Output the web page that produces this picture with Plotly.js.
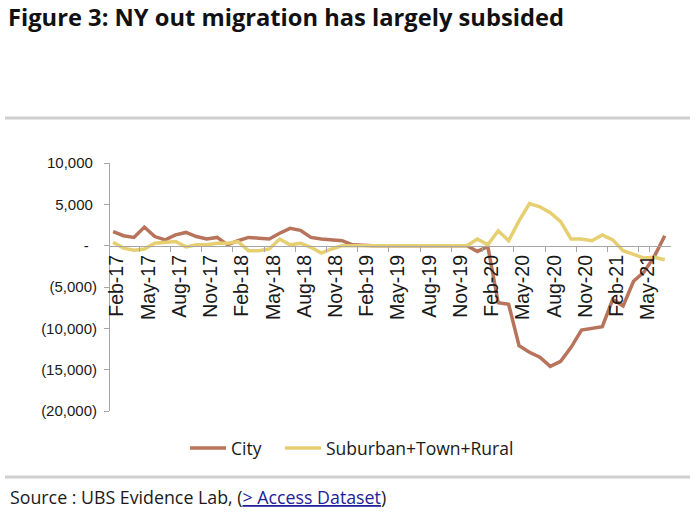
<!DOCTYPE html>
<html>
<head>
<meta charset="utf-8">
<script src="https://cdn.plot.ly/plotly-3.0.1.min.js"></script>
<style>html,body{margin:0;padding:0;background:#fff;}#chart{width:700px;height:525px;}</style>
</head>
<body>
<div id="chart"></div>
<script>
var months = ['Feb-17','Mar-17','Apr-17','May-17','Jun-17','Jul-17','Aug-17','Sep-17','Oct-17','Nov-17','Dec-17',
  'Jan-18','Feb-18','Mar-18','Apr-18','May-18','Jun-18','Jul-18','Aug-18','Sep-18','Oct-18','Nov-18','Dec-18',
  'Jan-19','Feb-19','Mar-19','Apr-19','May-19','Jun-19','Jul-19','Aug-19','Sep-19','Oct-19','Nov-19','Dec-19',
  'Jan-20','Feb-20','Mar-20','Apr-20','May-20','Jun-20','Jul-20','Aug-20','Sep-20','Oct-20','Nov-20','Dec-20',
  'Jan-21','Feb-21','Mar-21','Apr-21','May-21','Jun-21','Jul-21'];

var city = [1700,1200,1000,2250,1100,700,1300,1600,1100,800,1000,
  100,600,1000,900,800,1500,2100,1850,1000,800,700,600,
  100,0,0,0,0,0,0,0,0,0,0,0,
  -700,-100,-6900,-7100,-12100,-12900,-13500,-14600,-14000,-12300,-10200,-10000,
  -9800,-6500,-7300,-4300,-3200,-1300,1200];

var suburban = [400,-300,-550,-400,300,400,500,-150,100,100,300,
  300,500,-600,-600,-400,800,100,300,-200,-900,-400,0,
  0,0,0,0,0,0,0,0,0,0,0,0,
  800,100,1800,600,3000,5100,4700,4000,2900,800,800,600,
  1300,700,-600,-1100,-1500,-1400,-1700];

var xTickLabels = ['Feb-17','May-17','Aug-17','Nov-17','Feb-18','May-18','Aug-18','Nov-18','Feb-19','May-19','Aug-19','Nov-19','Feb-20','May-20','Aug-20','Nov-20','Feb-21','May-21'];
var yTickVals = [-20000,-15000,-10000,-5000,0,5000,10000];
var yTickText = ['(20,000)','(15,000)','(10,000)','(5,000)','-\u00a0\u00a0','5,000\u00a0','10,000\u00a0'];

var titleText = 'Figure 3: NY out migration has largely subsided';
var sourceText = 'Source : UBS Evidence Lab, (<span style="color:#23209a"><u>&gt; Access Dataset</u></span>)';

var axisGrey = '#a6a6a6';

var traces = [
  {x: months, y: city, name: 'City', type: 'scatter', mode: 'lines', legendwidth: 44,
   line: {color: '#b8735b', width: 3.5}},
  {x: months, y: suburban, name: 'Suburban+Town+Rural', type: 'scatter', mode: 'lines', legendwidth: 200,
   line: {color: '#e6cf70', width: 3.5}}
];

var layout = {
  width: 700, height: 525,
  paper_bgcolor: '#ffffff', plot_bgcolor: 'rgba(0,0,0,0)',
  margin: {l: 110, r: 29, t: 163, b: 114},
  showlegend: true,
  title: {text: '<b>' + titleText + '</b>', xref: 'container', yref: 'container',
    x: 8/700, xanchor: 'left', y: 1 - 18/525, yanchor: 'middle',
    font: {family: 'Open Sans, sans-serif', size: 23.7, color: '#111111'}},
  xaxis: {type: 'category', range: [-0.3, 53.6], anchor: 'free', position: 2/3,
    showline: true, linecolor: axisGrey, linewidth: 1.5,
    ticks: 'outside', ticklen: 5, tickcolor: axisGrey, tickson: 'boundaries',
    tickmode: 'array', tickvals: xTickLabels, ticktext: xTickLabels,
    ticklabelshift: 4,
    tickangle: -90, tickfont: {family: 'Liberation Sans, Arial, sans-serif', size: 19.5, color: '#1a1a1a'},
    showgrid: false, zeroline: false, fixedrange: true},
  yaxis: {range: [-20000, 10000], showline: true, linecolor: axisGrey, linewidth: 1,
    ticks: 'outside', ticklen: 5, tickcolor: axisGrey,
    tickmode: 'array', tickvals: yTickVals, ticktext: yTickText,
    tickfont: {family: 'Liberation Sans, Arial, sans-serif', size: 15, color: '#1a1a1a'},
    ticklabelstandoff: 4,
    showgrid: false, zeroline: false, fixedrange: true},
  legend: {orientation: 'h', x: (185-110)/561, xanchor: 'left', y: (411-448)/248, yanchor: 'middle',
    itemwidth: 36,
    font: {family: 'Open Sans, sans-serif', size: 17.5, color: '#1a1a1a'},
    bgcolor: 'rgba(0,0,0,0)'},
  shapes: [
    {type: 'line', xref: 'paper', yref: 'paper', x0: (5-110)/561, x1: (690-110)/561,
     y0: (411-118)/248, y1: (411-118)/248, line: {color: '#cfcfcf', width: 3}},
    {type: 'line', xref: 'paper', yref: 'paper', x0: (5-110)/561, x1: (690-110)/561,
     y0: (411-477)/248, y1: (411-477)/248, line: {color: '#cfcfcf', width: 3}}
  ],
  annotations: [
    {text: sourceText, xref: 'paper', yref: 'paper', x: (8-110)/561, xanchor: 'left',
     y: (411-497)/248, yanchor: 'middle', showarrow: false,
     font: {family: 'Open Sans, sans-serif', size: 17.8, color: '#1a1a1a'}}
  ]
};

Plotly.newPlot('chart', traces, layout, {displayModeBar: false, staticPlot: true});
</script>
</body>
</html>
